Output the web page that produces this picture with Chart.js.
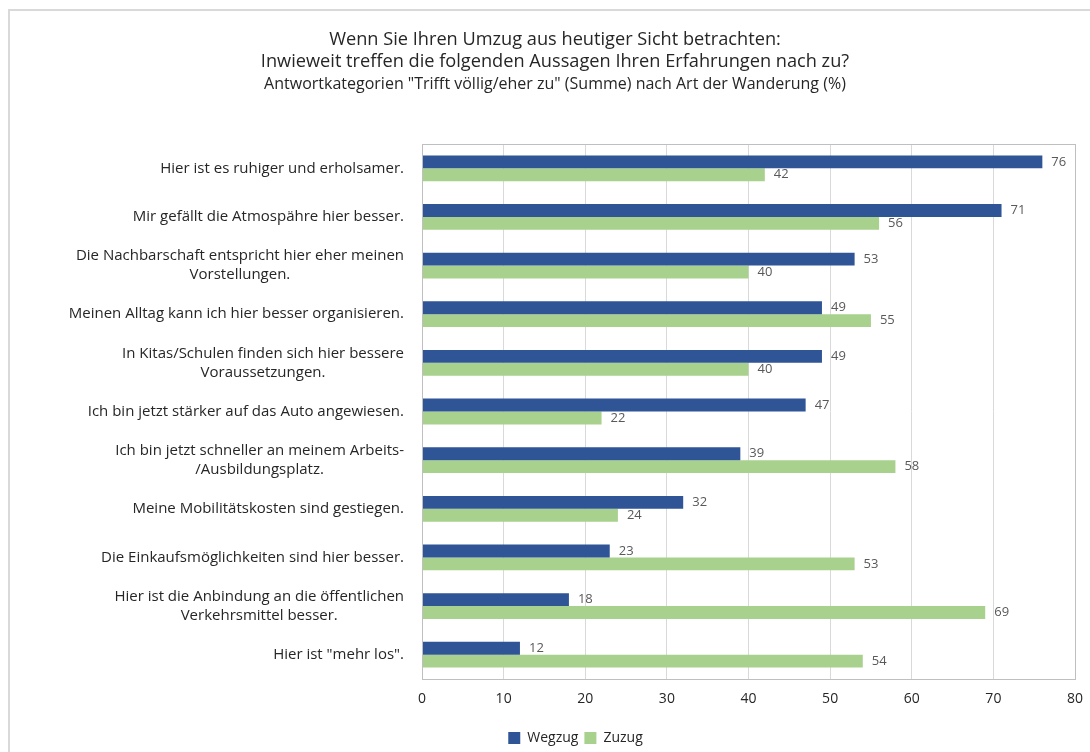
<!DOCTYPE html>
<html lang="de">
<head>
<meta charset="utf-8">
<title>Umzug – Erfahrungen nach Art der Wanderung</title>
<script src="https://cdn.jsdelivr.net/npm/chart.js@4.4.1/dist/chart.umd.min.js"></script>
<style>
  html, body { margin: 0; padding: 0; background: #fff; }
  #wrap { position: relative; width: 1090px; height: 752px; }
</style>
</head>
<body>
<div id="wrap"><canvas id="chart"></canvas></div>
<script>
// Aussagen (Kategorien), mehrzeilig wo nötig
const statements = [
  ['Hier ist es ruhiger und erholsamer.'],
  ['Mir gefällt die Atmospähre hier besser.'],
  ['Die Nachbarschaft entspricht hier eher meinen', 'Vorstellungen.'],
  ['Meinen Alltag kann ich hier besser organisieren.'],
  ['In Kitas/Schulen finden sich hier bessere', 'Voraussetzungen.'],
  ['Ich bin jetzt stärker auf das Auto angewiesen.'],
  ['Ich bin jetzt schneller an meinem Arbeits-', '/Ausbildungsplatz.'],
  ['Meine Mobilitätskosten sind gestiegen.'],
  ['Die Einkaufsmöglichkeiten sind hier besser.'],
  ['Hier ist die Anbindung an die öffentlichen', 'Verkehrsmittel besser.'],
  ['Hier ist "mehr los".']
]

const wegzug = [76, 71, 53, 49, 49, 47, 39, 32, 23, 18, 12]
const zuzug = [42, 56, 40, 55, 40, 22, 58, 24, 53, 69, 54]

const xTicks = [0, 10, 20, 30, 40, 50, 60, 70, 80]

const titleLines = [
  'Wenn Sie Ihren Umzug aus heutiger Sicht betrachten:',
  'Inwieweit treffen die folgenden Aussagen Ihren Erfahrungen nach zu?'
]
const subtitle = 'Antwortkategorien "Trifft völlig/eher zu" (Summe) nach Art der Wanderung (%)'

const FONT = '"Open Sans", "Noto Sans", sans-serif'
const TEXT = '#262626'

// Rahmen, Überschrift, Plotrahmen, Kategorienbeschriftung, Werte
const decor = {
  id: 'decor',
  afterLayout(chart) {
    // Legende etwas nach rechts versetzt
    chart.legend.left += 38
    chart.legend.right += 38
    chart.legend.top += 3
    chart.legend.bottom += 3
  },
  beforeDraw(chart) {
    const ctx = chart.ctx
    ctx.save()
    ctx.strokeStyle = '#d9d9d9'
    ctx.lineWidth = 2
    ctx.strokeRect(9, 10, 1200, 1200)
    ctx.restore()
  },
  afterDatasetsDraw(chart) {
    const ctx = chart.ctx
    const area = chart.chartArea
    ctx.save()

    // Plotrahmen
    ctx.strokeStyle = '#bfbfbf'
    ctx.lineWidth = 1
    ctx.strokeRect(Math.round(area.left) + 0.5, Math.round(area.top) + 0.5,
      Math.round(area.right - area.left), Math.round(area.bottom - area.top))

    // Titel
    ctx.fillStyle = TEXT
    ctx.textAlign = 'center'
    ctx.textBaseline = 'middle'
    ctx.font = '18.2px ' + FONT
    ctx.fillText(titleLines[0], 555, 40)
    ctx.fillText(titleLines[1], 555, 62)
    ctx.font = '16px ' + FONT
    ctx.fillText(subtitle, 555, 84)

    // Kategorien: Block rechtsbündig, Zeilen zentriert
    const yScale = chart.scales.y
    const right = area.left - 18
    ctx.font = '15px ' + FONT
    statements.forEach((lines, i) => {
      const yc = yScale.getPixelForValue(i)
      const w = Math.max(...lines.map(l => ctx.measureText(l).width))
      const cx = right - w / 2
      const lh = 19
      const y0 = yc - (lines.length - 1) * lh / 2
      lines.forEach((l, j) => ctx.fillText(l, cx, y0 + j * lh))
    })

    // Datenbeschriftung
    ctx.fillStyle = '#595959'
    ctx.font = '13px ' + FONT
    ctx.textAlign = 'left'
    chart.data.datasets.forEach((ds, di) => {
      chart.getDatasetMeta(di).data.forEach((bar, i) => {
        ctx.fillText(String(ds.data[i]), bar.x + 9, bar.y)
      })
    })
    ctx.restore()
  }
}

new Chart(document.getElementById('chart'), {
  type: 'bar',
  data: {
    labels: statements.map(s => s.join(' ')),
    datasets: [
      {
        label: 'Wegzug',
        data: wegzug,
        backgroundColor: '#2f5597',
        categoryPercentage: 0.53,
        barPercentage: 1
      },
      {
        label: 'Zuzug',
        data: zuzug,
        backgroundColor: '#a9d18e',
        categoryPercentage: 0.53,
        barPercentage: 1
      }
    ]
  },
  options: {
    indexAxis: 'y',
    responsive: true,
    maintainAspectRatio: false,
    animation: false,
    layout: {
      padding: { top: 144, right: 15, bottom: 0, left: 0 }
    },
    plugins: {
      title: { display: false },
      tooltip: { enabled: false },
      legend: {
        display: true,
        position: 'bottom',
        labels: {
          font: { family: FONT, size: 14 },
          color: TEXT,
          boxWidth: 12,
          boxHeight: 12,
          padding: 6
        }
      }
    },
    scales: {
      x: {
        min: 0,
        max: 80,
        afterBuildTicks: (scale) => {
          scale.ticks = xTicks.map(v => ({ value: v }))
        },
        afterFit: (scale) => {
          scale.height = 43
          scale.paddingLeft = 0
          scale.paddingRight = 0
        },
        grid: { color: '#d9d9d9', drawTicks: false },
        border: { display: false },
        ticks: {
          font: { family: FONT, size: 14 },
          color: TEXT,
          padding: 12
        }
      },
      y: {
        afterFit: (scale) => { scale.width = 422 },
        grid: { display: false },
        border: { display: false },
        ticks: { display: false }
      }
    }
  },
  plugins: [decor]
})
</script>
</body>
</html>
